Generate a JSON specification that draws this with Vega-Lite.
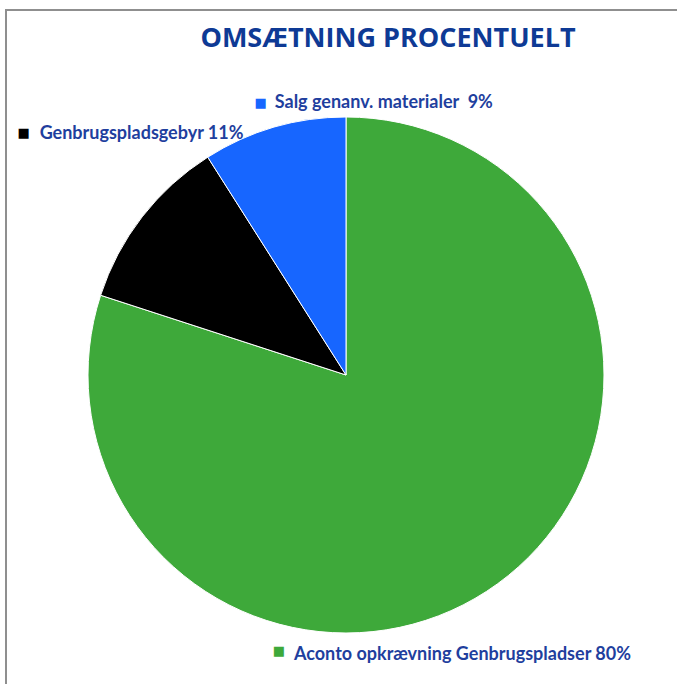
{
  "$schema": "https://vega.github.io/schema/vega-lite/v6.json",
  "width": 680,
  "height": 730,
  "autosize": {"type": "none"},
  "padding": {"left": 6, "top": 10, "right": -9, "bottom": -56},
  "background": "white",
  "view": {"stroke": "#8f8f8f", "strokeWidth": 2, "fill": "white"},
  "config": {"view": {"stroke": "#8f8f8f", "strokeWidth": 2}, "style": {"cell": {"stroke": "#8f8f8f", "strokeWidth": 2}}},
  "title": {
    "text": "OMSÆTNING PROCENTUELT",
    "anchor": "middle",
    "dx": 42,
    "offset": -64,
    "baseline": "alphabetic",
    "font": "Open Sans",
    "fontSize": 27,
    "fontWeight": "bold",
    "color": "#0E3A95"
  },
  "data": {
    "values": [
      {"kategori": "Aconto opkrævning Genbrugspladser", "label": "Aconto opkrævning Genbrugspladser 80%", "pct": 80, "order": 1},
      {"kategori": "Genbrugspladsgebyr", "label": "Genbrugspladsgebyr 11%", "pct": 11, "order": 2},
      {"kategori": "Salg genanv. materialer", "label": "Salg genanv. materialer\u00a0 9%", "pct": 9, "order": 3}
    ]
  },
  "transform": [
    {"stack": "pct", "groupby": [], "sort": [{"field": "order", "order": "ascending"}], "as": ["v0", "v1"]}
  ],
  "layer": [
    {
      "mark": {"type": "arc", "radius": 258, "stroke": "white", "strokeWidth": 1},
      "encoding": {
        "theta": {"field": "v0", "type": "quantitative", "scale": {"domain": [0, 100]}},
        "theta2": {"field": "v1"},
        "color": {
          "field": "kategori",
          "type": "nominal",
          "scale": {
            "domain": ["Aconto opkrævning Genbrugspladser", "Genbrugspladsgebyr", "Salg genanv. materialer"],
            "range": ["#3EA93A", "#000000", "#1766FF"]
          },
          "legend": null
        }
      }
    },
    {
      "transform": [{"filter": "datum.order == 3"}],
      "mark": {"type": "text", "align": "left", "baseline": "alphabetic", "radius": 258, "dx": 67, "dy": -49, "font": "Lato", "fontSize": 18, "fontWeight": "bold", "color": "#1F3F9E"},
      "encoding": {
        "theta": {"field": "v0", "type": "quantitative", "scale": {"domain": [0, 100]}},
        "text": {"field": "label"}
      }
    },
    {
      "transform": [{"filter": "datum.order == 3"}],
      "mark": {"type": "text", "align": "center", "baseline": "middle", "radius": 258, "dx": 53, "dy": -54, "font": "DejaVu Sans", "fontSize": 13},
      "encoding": {
        "theta": {"field": "v0", "type": "quantitative", "scale": {"domain": [0, 100]}},
        "text": {"value": "■"},
        "color": {"field": "kategori", "type": "nominal", "legend": null}
      }
    },
    {
      "transform": [{"filter": "datum.order == 2"}],
      "mark": {"type": "text", "align": "left", "baseline": "alphabetic", "radius": 258, "dx": -61, "dy": -156, "font": "Lato", "fontSize": 18, "fontWeight": "bold", "color": "#1F3F9E"},
      "encoding": {
        "theta": {"field": "v0", "type": "quantitative", "scale": {"domain": [0, 100]}},
        "text": {"field": "label"}
      }
    },
    {
      "transform": [{"filter": "datum.order == 2"}],
      "mark": {"type": "text", "align": "center", "baseline": "middle", "radius": 258, "dx": -77, "dy": -162, "font": "DejaVu Sans", "fontSize": 13},
      "encoding": {
        "theta": {"field": "v0", "type": "quantitative", "scale": {"domain": [0, 100]}},
        "text": {"value": "■"},
        "color": {"field": "kategori", "type": "nominal", "legend": null}
      }
    },
    {
      "transform": [{"filter": "datum.order == 1"}],
      "mark": {"type": "text", "align": "left", "baseline": "alphabetic", "radius": 258, "dx": -52, "dy": 543, "font": "Lato", "fontSize": 18, "fontWeight": "bold", "color": "#1F3F9E"},
      "encoding": {
        "theta": {"field": "v0", "type": "quantitative", "scale": {"domain": [0, 100]}},
        "text": {"field": "label"}
      }
    },
    {
      "transform": [{"filter": "datum.order == 1"}],
      "mark": {"type": "text", "align": "center", "baseline": "middle", "radius": 258, "dx": -67, "dy": 534, "font": "DejaVu Sans", "fontSize": 13},
      "encoding": {
        "theta": {"field": "v0", "type": "quantitative", "scale": {"domain": [0, 100]}},
        "text": {"value": "■"},
        "color": {"field": "kategori", "type": "nominal", "legend": null}
      }
    }
  ]
}
